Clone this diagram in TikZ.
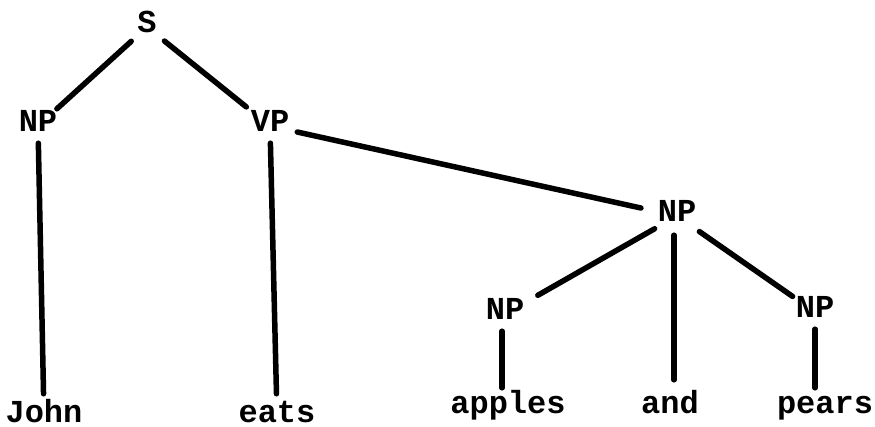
\documentclass[tikz,border=0pt]{standalone}
\usepackage{fontspec}
\setmonofont{Liberation Mono}
\begin{document}
\begin{tikzpicture}[x=1pt,y=-1pt,
  lbl/.style={font=\ttfamily\bfseries\fontsize{32}{32}\selectfont, anchor=base,
    text height=20pt, text depth=8pt, inner sep=3pt},
  edge/.style={line width=5.5pt, line cap=round}]
\useasboundingbox (0,0) rectangle (875,427);
\node[lbl] (S)   at (147,33)  {S};
\node[lbl] (NPa) at (38,132)  {NP};
\node[lbl] (VP)  at (270,132) {VP};
\node[lbl] (NPb) at (677,222) {NP};
\node[lbl] (NPc) at (505,320) {NP};
\node[lbl] (NPd) at (815,318) {NP};
\node[lbl] (john)   at (44,422)  {John};
\node[lbl] (eats)   at (277,422) {eats};
\node[lbl] (apples) at (508,413) {apples};
\node[lbl] (and)    at (670,413) {and};
\node[lbl] (pears)  at (825,413) {pears};
\draw[edge, shorten <=4pt] (S) -- (NPa);
\draw[edge, shorten <=6pt, shorten >=3pt] (S) -- (VP);
\draw[edge, shorten >=5pt] (NPa) -- (john);
\draw[edge, shorten >=5pt] (VP) -- (eats);
\draw[edge, shorten <=5pt, shorten >=14pt] (VP) -- (NPb);
\draw[edge, shorten >=12pt] (NPb) -- (NPc);
\draw[edge, shorten <=2pt, shorten >=10pt] ([xshift=-3pt]NPb.south) -- ([xshift=-3pt]NPb.south |- and.north);
\draw[edge] (NPb) -- (NPd);
\draw[edge, shorten >=2pt] ([xshift=-3pt]NPc.south) -- ([xshift=-3pt]NPc.south |- apples.north);
\draw[edge, shorten >=2pt] (NPd.south) -- (NPd.south |- pears.north);
\end{tikzpicture}
\end{document}
